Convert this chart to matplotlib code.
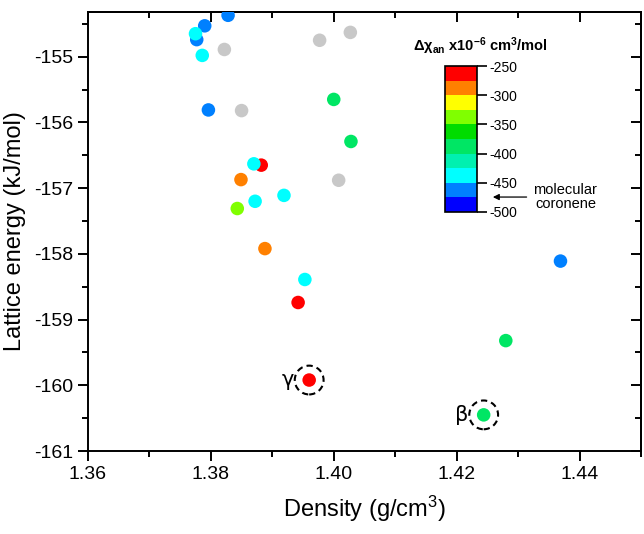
import numpy as np
import matplotlib
matplotlib.use("Agg")
import matplotlib.pyplot as plt
from matplotlib.colors import ListedColormap, BoundaryNorm
from matplotlib.ticker import MultipleLocator

plt.rcParams["font.family"] = ["Liberation Sans", "DejaVu Sans"]
plt.rcParams["axes.unicode_minus"] = False
plt.rcParams["mathtext.fontset"] = "custom"
plt.rcParams["mathtext.rm"] = "Liberation Sans"
plt.rcParams["mathtext.it"] = "Liberation Sans:italic"
plt.rcParams["mathtext.bf"] = "Liberation Sans:bold"

# crystal structures: density (g/cm3), lattice energy (kJ/mol), anisotropy (NaN = not computed)
density = [1.3828, 1.3790, 1.3777, 1.3775, 1.3786, 1.3822, 1.3977, 1.4027,
           1.3796, 1.3850, 1.4000, 1.4028, 1.3882, 1.3870, 1.3849, 1.4008,
           1.3872, 1.3919, 1.3843, 1.3888, 1.3953, 1.3942, 1.4369, 1.4280,
           1.3960, 1.4244]
energy = [-154.37, -154.53, -154.74, -154.65, -154.98, -154.89, -154.75, -154.63,
          -155.81, -155.82, -155.65, -156.29, -156.65, -156.63, -156.87, -156.88,
          -157.20, -157.11, -157.31, -157.92, -158.39, -158.74, -158.11, -159.32,
          -159.92, -160.45]
delta_chi = [-462, -462, -462, -437, -437, np.nan, np.nan, np.nan,
             -462, np.nan, -387, -387, -262, -437, -287, np.nan,
             -437, -437, -337, -287, -437, -262, -462, -387,
             -262, -387]

polymorph_labels = ["γ", "β"]
polymorph_density = [1.3960, 1.4244]
polymorph_energy = [-159.92, -160.45]

bounds = np.arange(-500, -249, 25)
band_colors = ["#0000ff", "#0080ff", "#00ffff", "#00f0b0", "#00e664",
               "#00dc00", "#80ff00", "#ffff00", "#ff8000", "#ff0000"]
cmap = ListedColormap(band_colors)
cmap.set_bad("#c8c8c8")
norm = BoundaryNorm(bounds, cmap.N)

fig = plt.figure(figsize=(6.44, 5.34), dpi=100)
ax = fig.add_axes([0.1366, 0.1554, 0.8587, 0.8221])

sc = ax.scatter(density, energy, c=delta_chi, cmap=cmap, norm=norm, s=95,
                plotnonfinite=True, linewidths=0, zorder=3)
ax.scatter(polymorph_density, polymorph_energy, s=430, facecolors="none",
           edgecolors="black", linewidths=1.5, linestyles=(0, (3, 2)), zorder=4)
for lab, x, y in zip(polymorph_labels, polymorph_density, polymorph_energy):
    ax.text(x - 0.0035, y, lab, fontsize=15, ha="center", va="center",
            family=["DejaVu Sans"])

ax.set_xlim(1.36, 1.45)
ax.set_ylim(-161, -154.32)
ax.xaxis.set_major_locator(MultipleLocator(0.02))
ax.xaxis.set_minor_locator(MultipleLocator(0.01))
ax.yaxis.set_major_locator(MultipleLocator(1))
ax.yaxis.set_minor_locator(MultipleLocator(0.5))
ax.xaxis.set_major_formatter(matplotlib.ticker.FormatStrFormatter("%.2f"))
ax.yaxis.set_major_formatter(matplotlib.ticker.FormatStrFormatter("%d"))
ax.tick_params(which="major", direction="out", length=7, width=1.4, labelsize=14)
ax.tick_params(which="minor", direction="out", length=4, width=1.4)
for s in ax.spines.values():
    s.set_linewidth(1.4)

for sec in (ax.secondary_xaxis("top"), ax.secondary_yaxis("right")):
    axis = sec.xaxis if hasattr(sec, "xaxis") and sec._orientation == "x" else sec.yaxis
    if sec._orientation == "x":
        axis.set_major_locator(MultipleLocator(0.02))
        axis.set_minor_locator(MultipleLocator(0.01))
    else:
        axis.set_major_locator(MultipleLocator(1))
        axis.set_minor_locator(MultipleLocator(0.5))
    sec.tick_params(which="major", direction="in", length=7, width=1.4,
                    labeltop=False, labelright=False)
    sec.tick_params(which="minor", direction="in", length=4, width=1.4)
    for s in sec.spines.values():
        s.set_linewidth(1.4)

ax.set_xlabel("Density (g/cm$^3$)", fontsize=17, labelpad=8)
ax.set_ylabel("Lattice energy (kJ/mol)", fontsize=17, labelpad=6)

cax = fig.add_axes([0.691, 0.603, 0.0497, 0.2734])
cb = fig.colorbar(sc, cax=cax, ticks=np.arange(-500, -249, 50))
cb.ax.yaxis.set_major_formatter(matplotlib.ticker.FormatStrFormatter("%d"))
cb.ax.tick_params(direction="out", length=7, width=1.2, labelsize=10, pad=2)
cb.outline.set_linewidth(1.2)
cb.ax.minorticks_off()

fig.text(0.641, 0.914, "Δχ$_{\\mathbf{an}}$ x10$^{\\mathbf{-6}}$ cm$^{\\mathbf{3}}$/mol",
         fontsize=10.5, fontweight="bold", ha="left", va="center")
fig.text(0.878, 0.631, "molecular\ncoronene", fontsize=10.5, ha="center",
         va="center", linespacing=1.0)
fig.add_artist(matplotlib.patches.FancyArrowPatch(
    (0.822, 0.631), (0.761, 0.631), transform=fig.transFigure,
    arrowstyle="-|>", mutation_scale=9, color="black", linewidth=0.9))

fig.savefig("out.png", dpi=100)
